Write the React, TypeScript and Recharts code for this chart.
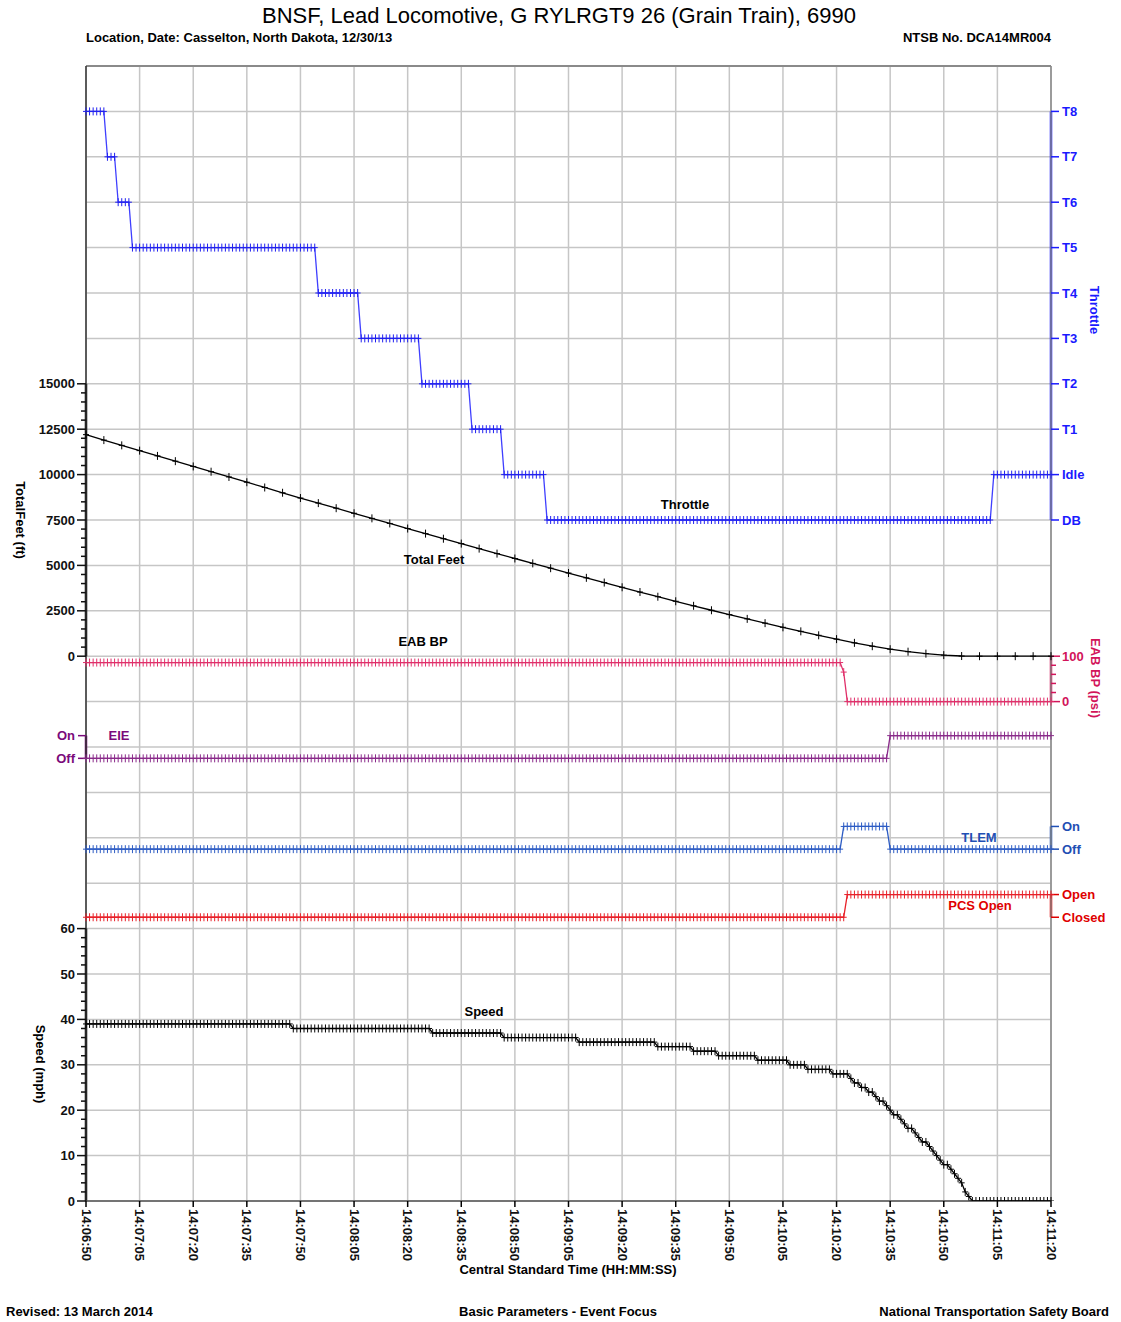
import { ComposedChart, Line, XAxis, YAxis, CartesianGrid, ReferenceLine, ReferenceDot } from 'recharts';

// --- data (1 sample per second from 14:06:50, stored as [value, seconds] runs) ---
const TIME_TICKS = [
  '14:06:50', '14:07:05', '14:07:20', '14:07:35', '14:07:50', '14:08:05', '14:08:20',
  '14:08:35', '14:08:50', '14:09:05', '14:09:20', '14:09:35', '14:09:50', '14:10:05',
  '14:10:20', '14:10:35', '14:10:50', '14:11:05', '14:11:20',
];
const TICK_STEP_S = 15;

const THROTTLE_NOTCHES = ['DB', 'Idle', 'T1', 'T2', 'T3', 'T4', 'T5', 'T6', 'T7', 'T8'];
const THROTTLE_RUNS: [number, number][] = [
  [9, 6], [8, 3], [7, 4], [6, 52], [5, 12], [4, 17], [3, 14], [2, 9], [1, 12], [0, 125], [1, 17],
];

// total feet read every 5 s
const FEET_STEP_S = 5;
const TOTAL_FEET = [
  12200, 11900, 11610, 11320, 11030, 10740, 10450, 10160, 9870, 9580,
  9290, 9000, 8710, 8430, 8150, 7870, 7590, 7310, 7030, 6750,
  6470, 6200, 5925, 5650, 5380, 5110, 4845, 4580, 4315, 4055,
  3795, 3535, 3275, 3025, 2775, 2530, 2290, 2055, 1820, 1590,
  1368, 1150, 940, 735, 550, 386, 249, 141, 60, 10,
  0, 0, 0, 0, 0,
];
const FEET_TICKS = [0, 2500, 5000, 7500, 10000, 12500, 15000];

const EAB_RUNS: [number, number][] = [[86, 212], [65, 1], [0, 58]];
const EAB_TICKS = [0, 100];

const EIE_RUNS: [number, number][] = [[0, 225], [1, 46]];
const TLEM_RUNS: [number, number][] = [[0, 212], [1, 13], [0, 46]];
const PCS_RUNS: [number, number][] = [[0, 213], [1, 58]];
const ON_OFF = ['Off', 'On'];
const OPEN_CLOSED = ['Closed', 'Open'];

const SPEED_RUNS: [number, number][] = [
  [39, 58], [38, 39], [37, 20], [36, 21], [35, 22], [34, 10], [33, 7], [32, 11], [31, 9],
  [30, 5], [29, 7], [28, 5], [27, 1], [26, 2], [25, 2], [24, 2], [23, 1], [22, 2], [21, 1],
  [20, 1], [19, 2], [18, 1], [17, 1], [16, 2], [15, 1], [14, 1], [13, 2], [12, 1], [11, 1],
  [10, 1], [9, 1], [8, 2], [7, 1], [6, 1], [5, 1], [4, 1], [2, 1], [1, 1], [0, 23],
];
const SPEED_TICKS = [0, 10, 20, 30, 40, 50, 60];

// --- layout ---
const W = 1121;
const H = 1322;
const PLOT_L = 86;
const PLOT_R = 1051;
const PLOT_T = 66;
const PLOT_B = 1201;
const GRID_UNITS = 25;
const FONT = "'Liberation Sans', Arial, sans-serif";

// each trace sits in its own band of the shared grid: grid unit = base + v / per
const BANDS: Record<string, { base: number; per: number }> = {
  speed: { base: 0, per: 10 },
  pcs: { base: 6.25, per: 2 },
  tlem: { base: 7.75, per: 2 },
  eie: { base: 9.75, per: 2 },
  eab: { base: 11, per: 100 },
  feet: { base: 12, per: 2500 },
  throttle: { base: 15, per: 1 },
};
const domainOf = (id: string) => {
  const b = BANDS[id];
  return [-b.base * b.per, (GRID_UNITS - b.base) * b.per];
};

const C = {
  throttle: '#3f3fff',
  throttleTxt: '#1a1aff',
  eab: '#e0306a',
  eabTxt: '#d2145a',
  eie: '#8a2a8a',
  eieTxt: '#7a0a7a',
  tlem: '#2d5cc4',
  tlemTxt: '#1f4fb4',
  pcs: '#e82028',
  pcsTxt: '#e00000',
  black: '#000000',
};

function expand(runs: [number, number][]) {
  const out: { t: number; v: number }[] = [];
  let t = 0;
  runs.forEach(([v, n]) => {
    for (let i = 0; i < n; i++) out.push({ t: t++, v });
  });
  return out;
}

type Side = 'left' | 'right';
type TickSpec = { id: string; v: number; label?: string; color: string; len: number; side: Side };

function majorMinor(id: string, majors: number[], minorStep: number, color: string, side: Side): TickSpec[] {
  const items: TickSpec[] = majors.map((v) => ({ id, v, label: String(v), color, len: 9, side }));
  for (let i = 0; i < majors.length - 1; i++) {
    for (let v = majors[i] + minorStep; v < majors[i + 1] - 1e-9; v += minorStep) {
      items.push({ id, v, color, len: 5, side });
    }
  }
  return items;
}
const named = (id: string, labels: string[], color: string, side: Side): TickSpec[] =>
  labels.map((label, v) => ({ id, v, label, color, len: 8, side }));

const AXIS_TICKS: TickSpec[] = [
  ...majorMinor('feet', FEET_TICKS, 500, '#111', 'left'),
  ...majorMinor('speed', SPEED_TICKS, 2, '#111', 'left'),
  ...named('eie', ON_OFF, C.eieTxt, 'left'),
  ...named('throttle', THROTTLE_NOTCHES, C.throttleTxt, 'right'),
  ...majorMinor('eab', EAB_TICKS, 20, C.eabTxt, 'right'),
  ...named('tlem', ON_OFF, C.tlemTxt, 'right'),
  ...named('pcs', OPEN_CLOSED, C.pcsTxt, 'right'),
];

function TickMark({ cx, cy, tk }: { cx: number; cy: number; tk: TickSpec }) {
  if (cx == null || cy == null) return null;
  const dx = tk.side === 'left' ? -1 : 1;
  return (
    <g>
      <line x1={cx} x2={cx + dx * tk.len} y1={cy} y2={cy} stroke={tk.color} strokeWidth={1.5} />
      {tk.label && (
        <text
          x={cx + dx * 11}
          y={cy}
          textAnchor={tk.side === 'left' ? 'end' : 'start'}
          dominantBaseline="central"
          fill={tk.color}
          fontSize={13}
          fontWeight="bold"
          fontFamily={FONT}
        >
          {tk.label}
        </text>
      )}
    </g>
  );
}

function TimeTick(props: any) {
  const { x, payload } = props;
  const label = TIME_TICKS[Math.round(payload.value / TICK_STEP_S)];
  const ty = PLOT_B + 8;
  return (
    <g>
      <line x1={x} x2={x} y1={PLOT_B} y2={PLOT_B + 6} stroke="#000" strokeWidth={1.5} />
      <text
        x={x}
        y={ty}
        transform={`rotate(90 ${x} ${ty})`}
        textAnchor="start"
        dominantBaseline="central"
        fontSize={13}
        fontWeight="bold"
        fontFamily={FONT}
        fill="#111"
      >
        {label}
      </text>
    </g>
  );
}

const plus = (color: string) => (p: any) => {
  const { cx, cy, index } = p;
  if (cx == null || cy == null) return <g key={index} />;
  return (
    <g key={index}>
      <line x1={cx} x2={cx} y1={cy - 4} y2={cy + 4} stroke={color} strokeWidth={1} />
      <line x1={cx - 3} x2={cx + 3} y1={cy} y2={cy} stroke={color} strokeWidth={1} />
    </g>
  );
};

const SERIES = [
  { id: 'throttle', data: expand(THROTTLE_RUNS), stroke: C.throttle, mark: '#2020f0' },
  { id: 'feet', data: TOTAL_FEET.map((v, i) => ({ t: i * FEET_STEP_S, v })), stroke: C.black, mark: C.black },
  { id: 'eab', data: expand(EAB_RUNS), stroke: C.eab, mark: C.eab },
  { id: 'eie', data: expand(EIE_RUNS), stroke: C.eie, mark: C.eie },
  { id: 'tlem', data: expand(TLEM_RUNS), stroke: C.tlem, mark: C.tlem },
  { id: 'pcs', data: expand(PCS_RUNS), stroke: C.pcs, mark: C.pcs },
  { id: 'speed', data: expand(SPEED_RUNS), stroke: C.black, mark: C.black },
];

// colored axis spines: [band, from, to, side, color]
const SPINES: [string, number, number, Side, string][] = [
  ['feet', 0, 15000, 'left', '#000'],
  ['eie', 0, 1, 'left', C.eieTxt],
  ['speed', 0, 60, 'left', '#000'],
  ['throttle', 0, 9, 'right', C.throttleTxt],
  ['eab', 0, 100, 'right', C.eabTxt],
  ['tlem', 0, 1, 'right', C.tlemTxt],
  ['pcs', 0, 1, 'right', C.pcsTxt],
];

const T_MAX = (TIME_TICKS.length - 1) * TICK_STEP_S;
const edgeX = (side: Side) => (side === 'left' ? 0 : T_MAX);

function Txt({
  x, y, children, size = 13, bold = true, color = '#000', anchor = 'middle', rotate = 0,
}: any) {
  const tx = anchor === 'middle' ? '-50%' : anchor === 'end' ? '-100%' : '0';
  return (
    <div
      style={{
        position: 'absolute',
        left: x,
        top: y,
        transform: `translate(${tx}, -50%) rotate(${rotate}deg)`,
        fontFamily: FONT,
        fontSize: size,
        fontWeight: bold ? 'bold' : 'normal',
        color,
        whiteSpace: 'nowrap',
        lineHeight: 1,
      }}
    >
      {children}
    </div>
  );
}

export default function App() {
  return (
    <div style={{ position: 'absolute', left: 0, top: 0, width: W, height: H, background: '#fff' }}>
      <ComposedChart
        width={W}
        height={H}
        margin={{ top: PLOT_T, left: PLOT_L - 60, right: W - PLOT_R - 60, bottom: H - PLOT_B - 60 }}
      >
        <XAxis
          dataKey="t"
          type="number"
          domain={[0, T_MAX]}
          ticks={TIME_TICKS.map((_, i) => i * TICK_STEP_S)}
          interval={0}
          height={60}
          tickLine={false}
          tick={<TimeTick />}
          axisLine={{ stroke: '#555', strokeWidth: 1.5 }}
        />
        <YAxis yAxisId="grid" hide type="number" domain={[0, GRID_UNITS]} allowDataOverflow />
        <YAxis
          yAxisId="L"
          orientation="left"
          type="number"
          width={60}
          domain={[0, GRID_UNITS]}
          tick={false}
          tickLine={false}
          axisLine={{ stroke: '#333', strokeWidth: 1.5 }}
        />
        <YAxis
          yAxisId="R"
          orientation="right"
          type="number"
          width={60}
          domain={[0, GRID_UNITS]}
          tick={false}
          tickLine={false}
          axisLine={{ stroke: '#888', strokeWidth: 1.5 }}
        />
        {SERIES.map((s) => (
          <YAxis key={s.id} yAxisId={s.id} hide type="number" domain={domainOf(s.id)} allowDataOverflow />
        ))}
        <CartesianGrid horizontal={false} stroke="#c6c6c6" strokeWidth={1.5} />
        {Array.from({ length: GRID_UNITS }, (_, i) => (
          <ReferenceLine key={`g${i}`} yAxisId="grid" y={i} stroke="#c6c6c6" strokeWidth={1.5} />
        ))}
        <ReferenceLine yAxisId="grid" y={GRID_UNITS} stroke="#8a8a8a" strokeWidth={2} />
        {SPINES.map(([id, a, b, side, color]) => (
          <ReferenceLine
            key={id}
            yAxisId={id}
            ifOverflow="visible"
            segment={[
              { x: edgeX(side), y: a },
              { x: edgeX(side), y: b },
            ]}
            stroke={color}
            strokeWidth={2.5}
          />
        ))}
        {AXIS_TICKS.map((tk, i) => (
          <ReferenceDot
            key={`t${i}`}
            yAxisId={tk.id}
            x={edgeX(tk.side)}
            y={tk.v}
            r={0}
            ifOverflow="visible"
            shape={(p: any) => <TickMark cx={p.cx} cy={p.cy} tk={tk} />}
          />
        ))}
        {SERIES.map((s) => (
          <Line
            key={s.id}
            yAxisId={s.id}
            data={s.data}
            dataKey="v"
            type="linear"
            stroke={s.stroke}
            strokeWidth={1.3}
            dot={plus(s.mark)}
            activeDot={false}
            isAnimationActive={false}
          />
        ))}
      </ComposedChart>

      <Txt x={559} y={16} size={22} bold={false}>BNSF, Lead Locomotive, G RYLRGT9 26 (Grain Train), 6990</Txt>
      <Txt x={86} y={37} anchor="start">Location, Date: Casselton, North Dakota, 12/30/13</Txt>
      <Txt x={1051} y={37} anchor="end">NTSB No. DCA14MR004</Txt>

      <Txt x={20} y={520} rotate={90}>TotalFeet (ft)</Txt>
      <Txt x={40} y={1064} rotate={90}>Speed (mph)</Txt>
      <Txt x={1094} y={310} rotate={90} color={C.throttleTxt}>Throttle</Txt>
      <Txt x={1095} y={678} rotate={90} color={C.eabTxt}>EAB BP (psi)</Txt>
      <Txt x={568} y={1269}>Central Standard Time (HH:MM:SS)</Txt>

      <Txt x={685} y={504}>Throttle</Txt>
      <Txt x={434} y={559}>Total Feet</Txt>
      <Txt x={423} y={641}>EAB BP</Txt>
      <Txt x={119} y={735} color={C.eieTxt}>EIE</Txt>
      <Txt x={979} y={837} color={C.tlemTxt}>TLEM</Txt>
      <Txt x={980} y={905} color={C.pcsTxt}>PCS Open</Txt>
      <Txt x={484} y={1011}>Speed</Txt>

      <Txt x={6} y={1311} anchor="start">Revised: 13 March 2014</Txt>
      <Txt x={558} y={1311}>Basic Parameters - Event Focus</Txt>
      <Txt x={1109} y={1311} anchor="end">National Transportation Safety Board</Txt>
    </div>
  );
}
